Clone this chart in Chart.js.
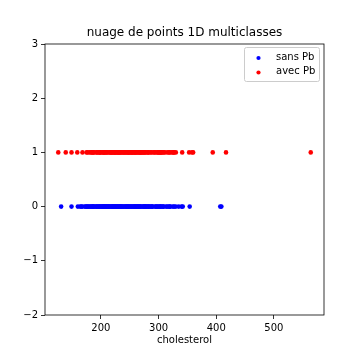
<!DOCTYPE html>
<html>
<head>
<meta charset="utf-8">
<script src="https://cdn.jsdelivr.net/npm/chart.js@4"></script>
<style>html,body{margin:0;padding:0;background:#fff;}canvas{display:block;}</style>
</head>
<body>
<canvas id="c" width="360" height="360"></canvas>
<script>
const titleText = 'nuage de points 1D multiclasses';
const xLabel = 'cholesterol';
const seriesNames = ['sans Pb', 'avec Pb'];
const seriesColors = ['#0000ff', '#ff0000'];
const classY = [0, 1];
const xTicks = [200, 300, 400, 500];
const yTicks = [-2, -1, 0, 1, 2, 3];
const cholSansPb = [131, 149, 160, 164, 166, 168, 172, 174, 175, 177, 178, 180, 182, 183, 185, 186, 187, 188, 190, 192, 193, 194, 196, 197, 198, 199, 201, 202, 203, 204, 205, 206, 207, 208, 209, 210, 211, 212, 213, 214, 215, 216, 218, 219, 220, 221, 222, 223, 224, 225, 226, 227, 228, 229, 230, 231, 232, 233, 234, 235, 236, 237, 239, 240, 242, 243, 244, 245, 246, 247, 248, 249, 250, 252, 253, 254, 256, 257, 258, 259, 260, 261, 262, 263, 264, 265, 266, 267, 268, 269, 271, 273, 274, 275, 276, 277, 278, 279, 281, 282, 283, 284, 286, 288, 289, 290, 294, 295, 297, 298, 300, 302, 303, 304, 306, 308, 309, 313, 315, 318, 319, 321, 325, 327, 330, 335, 340, 342, 354, 407, 409];
const cholAvecPb = [126, 139, 149, 159, 168, 175, 177, 180, 183, 184, 186, 187, 188, 192, 193, 195, 197, 198, 199, 200, 203, 204, 205, 206, 207, 209, 210, 212, 214, 216, 217, 218, 219, 220, 222, 223, 224, 225, 226, 228, 229, 230, 231, 232, 233, 234, 236, 237, 239, 240, 241, 243, 244, 246, 247, 248, 249, 250, 252, 253, 254, 255, 256, 258, 259, 260, 261, 263, 264, 266, 267, 268, 269, 270, 271, 273, 274, 275, 277, 278, 281, 282, 283, 286, 288, 291, 293, 295, 298, 299, 300, 302, 303, 304, 305, 307, 309, 311, 315, 318, 319, 322, 325, 326, 327, 330, 341, 353, 358, 360, 394, 417, 564];

const FONT = 'DejaVu Sans';
const allSeries = [cholSansPb, cholAvecPb];

const datasets = allSeries.map((vals, i) => ({
  label: seriesNames[i],
  data: vals.map(v => ({x: v, y: classY[i]})),
  backgroundColor: seriesColors[i],
  borderColor: seriesColors[i],
  borderWidth: 0,
  pointRadius: 2.3,
  pointHoverRadius: 2.3
}));

const framePlugin = {
  id: 'frame',
  afterDraw(chart) {
    const ctx = chart.ctx, a = chart.chartArea;
    ctx.save();
    ctx.strokeStyle = '#000';
    ctx.lineWidth = 0.8;
    ctx.strokeRect(a.left, a.top, a.right - a.left, a.bottom - a.top);
    // title
    ctx.fillStyle = '#000';
    ctx.font = '12px "' + FONT + '"';
    ctx.textAlign = 'center';
    ctx.textBaseline = 'middle';
    ctx.fillText(titleText, (a.left + a.right) / 2, 33);
    // legend
    const bx = 244.5, by = 47.5, bw = 75, bh = 34;
    ctx.beginPath();
    if (ctx.roundRect) ctx.roundRect(bx, by, bw, bh, 2); else ctx.rect(bx, by, bw, bh);
    ctx.fillStyle = 'rgba(255,255,255,0.8)';
    ctx.fill();
    ctx.strokeStyle = '#cccccc';
    ctx.lineWidth = 1;
    ctx.stroke();
    ctx.font = '10px "' + FONT + '"';
    ctx.textAlign = 'left';
    chart.data.datasets.forEach((ds, i) => {
      const cy = 57 + i * 14.5;
      ctx.beginPath();
      ctx.arc(258.5, cy + 1, 2.1, 0, Math.PI * 2);
      ctx.fillStyle = ds.backgroundColor;
      ctx.fill();
      ctx.fillStyle = '#000';
      ctx.fillText(ds.label, 276, cy);
    });
    ctx.restore();
  }
};

const gridCfg = {drawOnChartArea: false, drawTicks: true, tickLength: 4, color: '#000', lineWidth: 0.8};

new Chart(document.getElementById('c'), {
  type: 'scatter',
  data: {datasets},
  options: {
    responsive: false,
    animation: false,
    events: [],
    layout: {padding: {top: 44, right: 36, left: 0, bottom: 0}},
    plugins: {legend: {display: false}, tooltip: {enabled: false}, title: {display: false}},
    scales: {
      x: {
        type: 'linear', min: 103, max: 587,
        grid: gridCfg,
        border: {display: false},
        ticks: {color: '#000', font: {family: FONT, size: 10}, padding: 3, maxRotation: 0},
        afterBuildTicks: s => { s.ticks = xTicks.map(v => ({value: v})); },
        afterFit: s => { s.height = 45; },
        title: {display: true, text: xLabel, color: '#000', font: {family: FONT, size: 10}, padding: {top: 0, bottom: 14}}
      },
      y: {
        type: 'linear', min: -2, max: 3,
        grid: gridCfg,
        border: {display: false},
        ticks: {color: '#000', font: {family: FONT, size: 10}, padding: 3,
          callback: v => String(v).replace('-', '\u2212')},
        afterBuildTicks: s => { s.ticks = yTicks.map(v => ({value: v})); },
        afterFit: s => { s.width = 45; }
      }
    }
  },
  plugins: [framePlugin]
});
</script>
</body>
</html>
